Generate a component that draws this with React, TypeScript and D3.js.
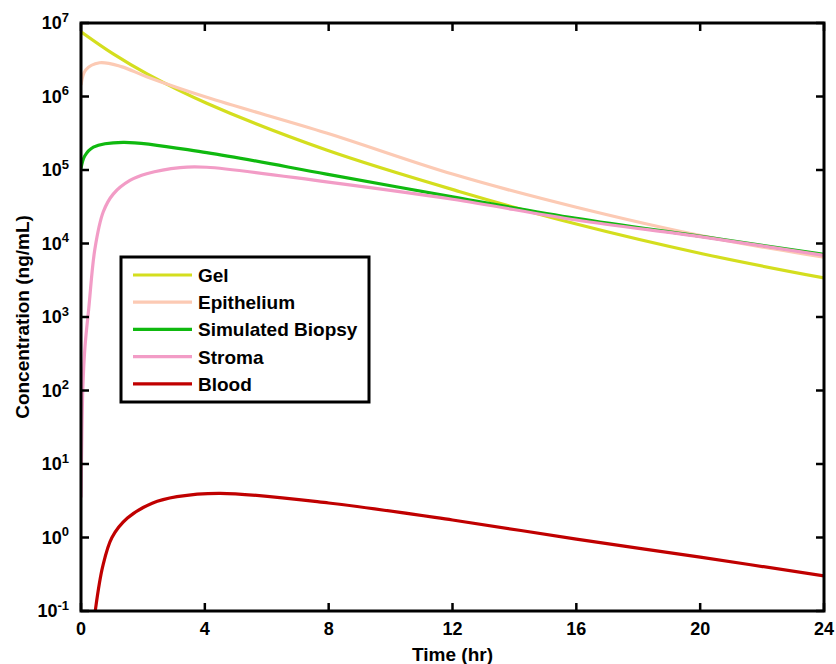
import React from "react";
import * as d3 from "d3";

const W = 836, H = 664;
const M = { left: 81, right: 824, top: 23, bottom: 611 };

const xTicks = [0, 4, 8, 12, 16, 20, 24];
const yExps = [-1, 0, 1, 2, 3, 4, 5, 6, 7];

const gelT = [0, 1.04, 2.12, 4.06, 7.93, 12.24, 16, 20.1, 24];
const gelV = [7.6e6, 3.8e6, 2.05e6, 8.1e5, 1.87e5, 5.07e4, 1.84e4, 7.2e3, 3.4e3];

const epiT = [0, 0.15, 0.6, 1.3, 2.12, 4.06, 7.93, 12, 16, 20.1, 24];
const epiV = [1.43e6, 2.3e6, 2.88e6, 2.55e6, 1.86e6, 9.75e5, 3.19e5, 8.8e4, 3.11e4, 1.26e4, 6.5e3];

const bioT = [0, 0.12, 0.4, 1.36, 4.06, 7.93, 12, 16, 20.1, 24];
const bioV = [1.05e5, 1.55e5, 2.05e5, 2.38e5, 1.72e5, 8.8e4, 4.3e4, 2.2e4, 1.24e4, 7.1e3];

const stroT = [0, 0.02, 0.06, 0.13, 0.25, 0.45, 0.72, 1.04, 1.58, 2.12, 3.2, 4.06, 7.93, 12, 16, 20.1, 24];
const stroV = [3.5, 15, 110, 400, 1300, 8.5e3, 2.7e4, 4.7e4, 7.2e4, 8.9e4, 1.08e5, 1.09e5, 6.9e4, 4.0e4, 2.09e4, 1.22e4, 6.9e3];

const bloodT = [0.3, 0.46, 0.7, 1.0, 1.5, 2.3, 3.1, 4.5, 8, 12, 16, 20, 24];
const bloodV = [0.025, 0.1, 0.4, 1.0, 1.84, 2.92, 3.59, 3.99, 2.95, 1.73, 0.95, 0.54, 0.3];

const seriesNames = ["Gel", "Epithelium", "Simulated Biopsy", "Stroma", "Blood"];
const seriesColors = ["#d4de1e", "#fccab4", "#0fb90f", "#f29cc6", "#c00000"];
const seriesT = [gelT, epiT, bioT, stroT, bloodT];
const seriesV = [gelV, epiV, bioV, stroV, bloodV];

export default function App() {
  const x = d3.scaleLinear().domain([0, 24]).range([M.left, M.right]);
  const y = d3.scaleLog().domain([0.1, 1e7]).range([M.bottom, M.top]);
  const line = d3
    .line<[number, number]>()
    .x((d) => x(d[0]))
    .y((d) => y(d[1]))
    .curve(d3.curveCatmullRom.alpha(0.5));

  const font = "Liberation Sans, Arial, sans-serif";
  const tick = 8;
  const legX = 121, legY = 257, legW = 248, legH = 145;
  const rowH = 27.2;

  return (
    <svg
      width={W}
      height={H}
      style={{ position: "absolute", left: 0, top: 0, background: "#fff" }}
      fontFamily={font}
      fontWeight="bold"
    >
      <defs>
        <clipPath id="plotclip">
          <rect x={M.left} y={M.top} width={M.right - M.left} height={M.bottom - M.top} />
        </clipPath>
      </defs>
      <rect x={0} y={0} width={W} height={H} fill="#fff" />
      <g clipPath="url(#plotclip)">
        {seriesNames.map((n, i) => (
          <path
            key={n}
            d={line(seriesT[i].map((t, j) => [t, seriesV[i][j]] as [number, number])) || ""}
            fill="none"
            stroke={seriesColors[i]}
            strokeWidth={3.2}
            strokeLinejoin="round"
          />
        ))}
      </g>
      {xTicks.map((t) => (
        <g key={"xt" + t}>
          <line x1={x(t)} x2={x(t)} y1={M.bottom} y2={M.bottom - tick} stroke="#000" strokeWidth={2.5} />
          <line x1={x(t)} x2={x(t)} y1={M.top} y2={M.top + tick} stroke="#000" strokeWidth={2.5} />
          <text x={x(t)} y={635} textAnchor="middle" fontSize={18}>
            {t}
          </text>
        </g>
      ))}
      {yExps.map((e) => {
        const yy = y(Math.pow(10, e));
        return (
          <g key={"yt" + e}>
            <line x1={M.left} x2={M.left + tick} y1={yy} y2={yy} stroke="#000" strokeWidth={2.5} />
            <line x1={M.right} x2={M.right - tick} y1={yy} y2={yy} stroke="#000" strokeWidth={2.5} />
            <text x={69} y={yy + 6} textAnchor="end" fontSize={18}>
              10
              <tspan dy={-7.5} fontSize={13}>
                {e}
              </tspan>
            </text>
          </g>
        );
      })}
      <rect
        x={M.left}
        y={M.top}
        width={M.right - M.left}
        height={M.bottom - M.top}
        fill="none"
        stroke="#000"
        strokeWidth={3}
      />
      <text x={(M.left + M.right) / 2} y={661} textAnchor="middle" fontSize={19}>
        Time (hr)
      </text>
      <text
        transform={`translate(29, ${(M.top + M.bottom) / 2}) rotate(-90)`}
        textAnchor="middle"
        fontSize={19}
      >
        Concentration (ng/mL)
      </text>
      <rect x={legX} y={legY} width={legW} height={legH} fill="#fff" stroke="#000" strokeWidth={3} />
      {seriesNames.map((n, i) => {
        const ry = 275 + i * rowH;
        return (
          <g key={"lg" + n}>
            <line x1={133} x2={192} y1={ry} y2={ry} stroke={seriesColors[i]} strokeWidth={3.2} />
            <text x={198} y={ry + 7} fontSize={19}>
              {n}
            </text>
          </g>
        );
      })}
    </svg>
  );
}
